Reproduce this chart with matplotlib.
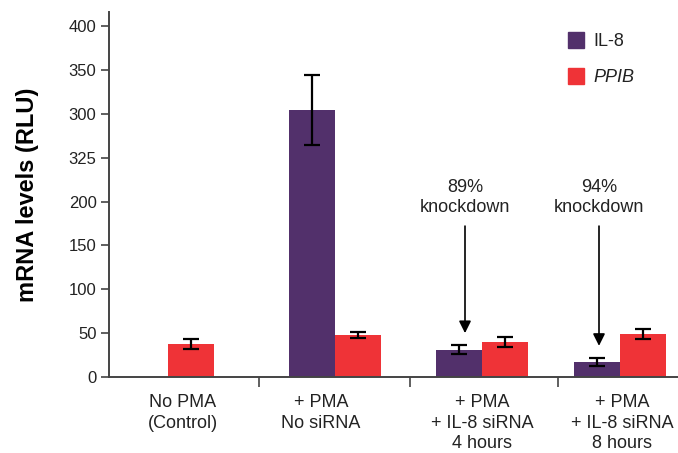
import numpy as np
import matplotlib.pyplot as plt

plt.rcParams['font.family'] = ['Liberation Sans', 'DejaVu Sans']

# --- Dados ---
groups = ["No PMA\n(Control)", "+ PMA\nNo siRNA",
          "+ PMA\n+ IL-8 siRNA\n4 hours", "+ PMA\n+ IL-8 siRNA\n8 hours"]
il8 = [np.nan, 304, 31, 17]
il8_err = [0, 40, 5, 4.5]
ppib = [37.5, 48, 40, 49]
ppib_err = [5.5, 3.5, 6, 6]
ytick_vals = [0, 50, 100, 150, 200, 250, 300, 350, 400]
ytick_labels = ["0", "50", "100", "150", "200", "325", "300", "350", "400"]
knockdown = ["89%\nknockdown", "94%\nknockdown"]

# --- Layout (coordenadas em pixels da figura original) ---
centers = np.array([168, 335, 482, 620])
label_x = [183, 321, 482, 622]
bounds = [259, 410, 558]
w = 46
c_il8 = "#52306b"
c_ppib = "#ef3337"
txt_col = "#222222"
fs = 13

fig = plt.figure(figsize=(6.78, 4.53), dpi=100)
ax = fig.add_axes([109 / 678, 76 / 453, (678 - 109) / 678, (377 - 12) / 453])

ekw = dict(ecolor="black", elinewidth=1.6, capsize=6, capthick=1.6)
ax.bar(centers - w / 2, il8, w, color=c_il8, yerr=il8_err, error_kw=ekw)
ax.bar(centers + w / 2, ppib, w, color=c_ppib, yerr=ppib_err, error_kw=ekw)

ax.set_xlim(109, 678)
ax.set_ylim(0, 416)
ax.set_yticks(ytick_vals)
ax.set_yticklabels(ytick_labels)
ax.set_xticks(bounds)
ax.set_xticklabels([])
ax.tick_params(axis='y', direction='out', length=6, width=1.2, colors="#444444",
               labelsize=12, labelcolor=txt_col, pad=3)
ax.tick_params(axis='x', direction='out', length=7, width=1.2, colors="#444444")

for s in ["top", "right"]:
    ax.spines[s].set_visible(False)
for s in ["left", "bottom"]:
    ax.spines[s].set_color("#444444")
    ax.spines[s].set_linewidth(1.4)

ax.set_ylabel("mRNA levels (RLU)", fontsize=17, fontweight="bold", labelpad=21)

# rótulos das categorias
for x, lab in zip(label_x, groups):
    ax.text(x, -19, lab, ha="center", va="top", fontsize=fs, color=txt_col,
            linespacing=1.3, clip_on=False)

# setas de knockdown
for x, txt, yb in zip([465, 599], knockdown, [il8[2] + il8_err[2], il8[3] + il8_err[3]]):
    ax.annotate("", xy=(x, yb + 14), xytext=(x, 172),
                arrowprops=dict(arrowstyle="-|>", color="black", lw=1.2,
                                mutation_scale=18, shrinkA=0, shrinkB=0))
    ax.text(x, 205, txt, ha="center", va="center", fontsize=fs,
            color=txt_col, linespacing=1.25)

# legenda manual
fig.patches.append(plt.Rectangle((568 / 678, 1 - 48 / 453), 16 / 678, 16 / 453,
                                 color=c_il8, transform=fig.transFigure))
fig.patches.append(plt.Rectangle((568 / 678, 1 - 84 / 453), 16 / 678, 16 / 453,
                                 color=c_ppib, transform=fig.transFigure))
fig.text(593 / 678, 1 - 41 / 453, "IL-8", fontsize=fs, va="center", color=txt_col)
fig.text(593 / 678, 1 - 77 / 453, "PPIB", fontsize=fs, va="center",
         style="italic", color=txt_col)

plt.savefig("out.png", dpi=100)
plt.close()
